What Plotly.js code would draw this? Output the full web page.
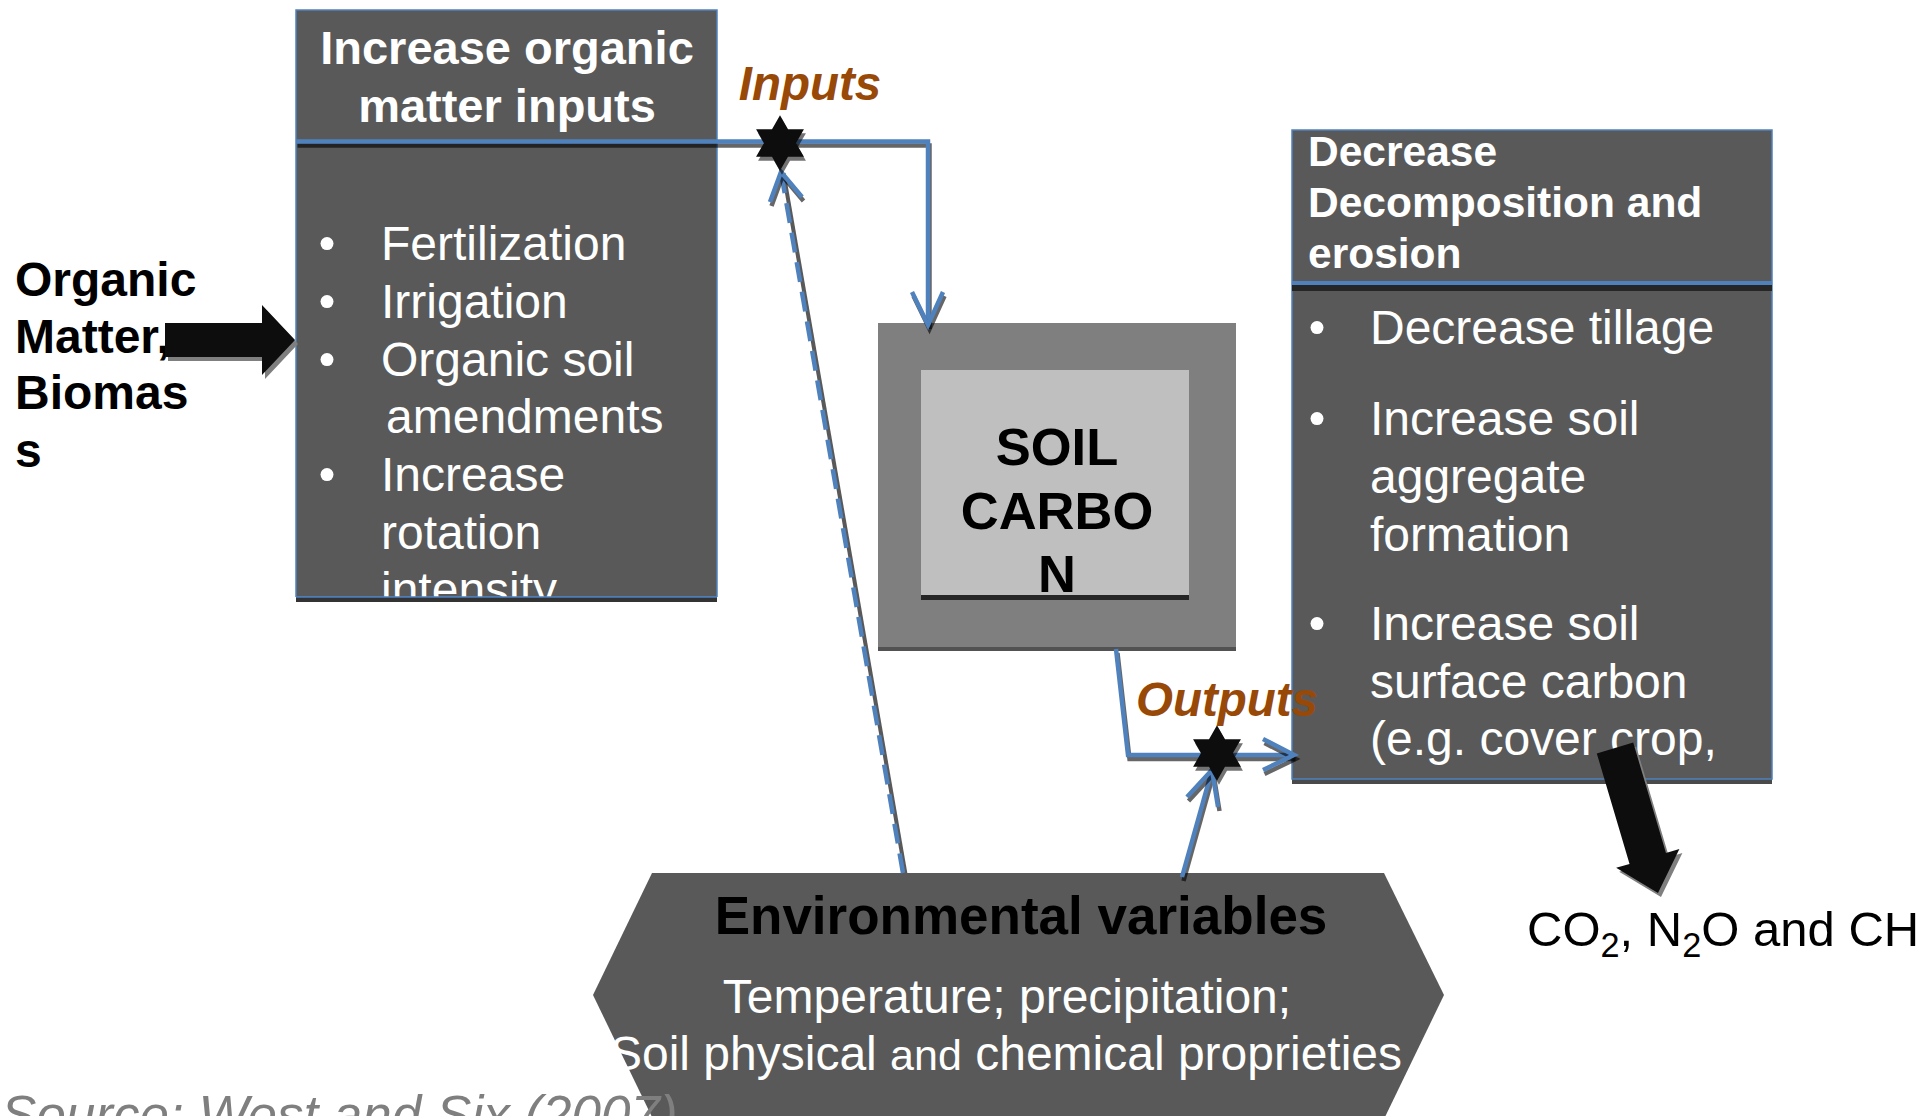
<!DOCTYPE html>
<html><head><meta charset="utf-8">
<script src="https://cdn.plot.ly/plotly-3.0.1.min.js"></script>
<style>html,body{margin:0;padding:0;background:#fff;overflow:hidden}</style>
</head><body><div id="chart" style="width:1916px;height:1116px"></div>
<script>
// ---------------- DATA (texts) ----------------
const inputTitle = ["Increase organic", "matter inputs"];
const inputBullets = ["Fertilization", "Irrigation", "Organic soil", "amendments", "Increase", "rotation", "intensity"];
const inputBulletMarks = [true, true, true, false, true, false, false];
const outputTitle = ["Decrease", "Decomposition and", "erosion"];
const outputBullets = ["Decrease tillage", "Increase soil", "aggregate", "formation", "Increase soil", "surface carbon", "(e.g. cover crop,"];
const outputBulletMarks = [true, true, false, false, true, false, false];
const sourceLabel = ["Organic", "Matter,", "Biomas", "s"];
const poolLabel = ["SOIL", "CARBO", "N"];
const envTitle = ["Environmental variables"];
const envLines = ["Temperature; precipitation;", "Soil physical <span style='font-size:43px'>and</span> chemical proprieties"];
const flowLabels = ["Inputs", "Outputs"];
const emissionLabel = ["CO<sub>2</sub>, N<sub>2</sub>O and CH<sub>4</sub>"];
const citation = ["Source: West and Six (2007)"];

// ---------------- GEOMETRY / STYLE ----------------
const W = 1916, H = 1116;
const FONT = '"Liberation Sans", Arial, Helvetica, sans-serif';
const BLUE = '#4f81bd', SHADOW = 'rgba(0,0,0,0.6)', BOXFILL = '#595959', BROWN = '#984807';
const TY = 5; // vertical text adjustment
const inBox = {x0: 296, x1: 717, y0: 10, y1: 597};
const outBox = {x0: 1292, x1: 1772, y0: 130, y1: 779, div: 283};
const pool = {x0: 878, x1: 1236, y0: 323, y1: 647, ix0: 921, ix1: 1189, iy0: 370, iy1: 595};
const hexPts = [[652, 873], [1384, 873], [1444, 995], [1385, 1117], [652, 1117], [593, 995]];
const inputFlow = [[296, 141.5], [928, 141.5], [928, 325]];
const inputHead = [[912, 292], [928, 325], [943, 292]];
const envToInput = [[903, 873], [781, 172]];
const envInputHead = [[770, 202], [781, 172], [802, 197]];
const poolToOut = [[1116, 649], [1128, 755], [1294, 755]];
const outHead = [[1263, 739], [1294, 755], [1263, 770]];
const envToOut = [[1182, 877], [1212, 770]];
const envOutHead = [[1187, 797], [1212, 770], [1218, 807]];
const starPos = [[780, 143], [1217, 753]];
const leftArrow = {s: [165, 340], t: [295, 340], hb: 17, hh: 35, hl: 33};
const emitArrow = {s: [1615, 748], t: [1658, 893], hb: 19, hh: 33, hl: 36};

const inTitleY = [47, 105];
const inBulletBase = [259, 317, 375, 432, 490, 548, 605];
const inBulletX = [381, 381, 381, 386, 381, 381, 381];
const outTitleY = [150, 201, 252];
const outBulletBase = [343, 434, 492, 550, 639, 697, 754];
const labelY = [279, 336, 392, 450];
const poolY = [447, 511, 574];
const citationTop = 1093;

const BODY = 48;
const mid = b => b - 0.35 * 47 + TY;
const ty = a => a.map(v => v + TY);

// ---------------- helpers ----------------
const pathOf = (pts, dx = 0, dy = 0, close = false) =>
  pts.map((p, i) => (i ? 'L' : 'M') + (p[0] + dx) + ',' + (p[1] + dy)).join(' ') + (close ? ' Z' : '');
function arrowPoly(a) {
  const dx = a.t[0] - a.s[0], dy = a.t[1] - a.s[1], L = Math.hypot(dx, dy);
  const ux = dx / L, uy = dy / L, nx = -uy, ny = ux, k = L - a.hl;
  const P = (u, n) => [a.s[0] + ux * u + nx * n, a.s[1] + uy * u + ny * n];
  return [P(0, -a.hb), P(k, -a.hb), P(k, -a.hh), P(L, 0), P(k, a.hh), P(k, a.hb), P(0, a.hb)];
}
const shapes = [];
const rect = (x0, y0, x1, y1, fill, layer = 'below', line = {width: 0}) =>
  shapes.push({type: 'rect', xref: 'x', yref: 'y', x0, y0, x1, y1, fillcolor: fill, line, layer});
const path = (d, color, width, layer = 'below', fill = 'rgba(0,0,0,0)', dash = 'solid') =>
  shapes.push({type: 'path', xref: 'x', yref: 'y', path: d, fillcolor: fill, line: {color, width, dash}, layer});
const LW = 4.5;
const flow = (pts) => { path(pathOf(pts, 1.5, 4), SHADOW, LW); path(pathOf(pts), BLUE, LW); };

// ---------------- shapes (below traces) ----------------
rect(inBox.x0, inBox.y0, inBox.x1, inBox.y1, BOXFILL, 'below', {color: BLUE, width: 1.5});
rect(outBox.x0, outBox.y1, outBox.x1, outBox.y1 + 5, '#4a4a4a');
rect(outBox.x0, outBox.y0, outBox.x1, outBox.y1, BOXFILL, 'below', {color: BLUE, width: 1.5});
rect(outBox.x0, outBox.div + 2, outBox.x1, outBox.div + 8, '#262626');
rect(outBox.x0, outBox.div - 2, outBox.x1, outBox.div + 2, BLUE);
rect(pool.x0, pool.y0, pool.x1, pool.y1 + 4, '#525252');
rect(pool.x0, pool.y0, pool.x1, pool.y1, '#7f7f7f');
rect(pool.ix0, pool.iy0, pool.ix1, pool.iy1 + 5, '#262626');
rect(pool.ix0, pool.iy0, pool.ix1, pool.iy1, '#bfbfbf');
path(pathOf(hexPts, 0, 0, true), 'rgba(0,0,0,0)', 0, 'below', BOXFILL);
flow(inputFlow); flow(inputHead);
path(pathOf(envToInput, 2.5, 1), '#595959', 4);
path(pathOf(envToInput), BLUE, LW, 'below', 'rgba(0,0,0,0)', '20px,10px');
flow(envInputHead);
flow(poolToOut); flow(outHead);
flow(envToOut); flow(envOutHead);

// ---------------- shapes (above traces) ----------------
rect(inBox.x0 - 6, inBox.y1, inBox.x1 + 6, inBox.y1 + 45, '#ffffff', 'above');
rect(inBox.x0, inBox.y1, inBox.x1, inBox.y1 + 5, '#333333', 'above');
rect(inBox.x0, inBox.y1 - 0.75, inBox.x1, inBox.y1 + 0.75, BLUE, 'above');
[leftArrow, emitArrow].forEach(a => {
  const p = arrowPoly(a);
  path(pathOf(p, 3, 4, true), 'rgba(0,0,0,0)', 0, 'above', '#7f7f7f');
  path(pathOf(p, 0, 0, true), 'rgba(0,0,0,0)', 0, 'above', '#0d0d0d');
});

// ---------------- traces ----------------
const txt = (x, y, text, pos, size, color, weight = 'normal', style = 'normal') => ({
  type: 'scatter', mode: 'text', x, y, text, textposition: pos, hoverinfo: 'skip', cliponaxis: false,
  textfont: {family: FONT, size, color, weight, style}
});
const traces = [];
const dotX = [], dotY = [];
inputBulletMarks.forEach((m, i) => { if (m) { dotX.push(327); dotY.push(mid(inBulletBase[i]) - TY + 1); } });
outputBulletMarks.forEach((m, i) => { if (m) { dotX.push(1317); dotY.push(mid(outBulletBase[i]) - TY + 1); } });
traces.push({type: 'scatter', mode: 'markers', x: dotX, y: dotY, hoverinfo: 'skip',
  marker: {symbol: 'circle', size: 13, color: '#ffffff', line: {width: 0}}});
traces.push(txt(inputTitle.map(() => 507), ty(inTitleY), inputTitle, 'middle center', 47, '#ffffff', 'bold'));
traces.push(txt(inBulletX, inBulletBase.map(mid), inputBullets, 'middle right', BODY, '#ffffff'));
traces.push(txt(outputTitle.map(() => 1308), ty(outTitleY), outputTitle, 'middle right', 42.5, '#ffffff', 'bold'));
traces.push(txt(outputBullets.map(() => 1370), outBulletBase.map(mid), outputBullets, 'middle right', BODY, '#ffffff'));
traces.push(txt(sourceLabel.map(() => 15), ty(labelY), sourceLabel, 'middle right', 48, '#000000', 'bold'));
traces.push(txt(poolLabel.map(() => 1057), ty(poolY), poolLabel, 'middle center', 52.5, '#000000', 'bold'));
traces.push(txt([1021], ty([916]), envTitle, 'middle center', 53, '#000000', 'bold'));
traces.push(txt([1007, 1006], ty([996, 1053]), envLines, 'middle center', BODY, '#ffffff'));
traces.push(txt([1527], ty([929]), emissionLabel, 'middle right', 49, '#000000'));
traces.push(txt([1], [citationTop], citation, 'bottom right', 53, '#7f7f7f', 'normal', 'italic'));
traces.push({type: 'scatter', mode: 'markers', x: starPos.map(p => p[0] + 2), y: starPos.map(p => p[1] + 4),
  hoverinfo: 'skip', marker: {symbol: 'hexagram', size: 42, color: 'rgba(0,0,0,0.55)', line: {width: 0}}});
traces.push({type: 'scatter', mode: 'markers', x: starPos.map(p => p[0]), y: starPos.map(p => p[1]),
  hoverinfo: 'skip', marker: {symbol: 'hexagram', size: 42, color: '#0d0d0d', line: {width: 0}}});
traces.push(txt([810, 1227], ty([83, 699]), flowLabels, 'middle center', 47.5, BROWN, 'bold', 'italic'));

const layout = {
  width: W, height: H, margin: {l: 0, r: 0, t: 0, b: 0, pad: 0},
  paper_bgcolor: '#ffffff', plot_bgcolor: '#ffffff', showlegend: false,
  xaxis: {range: [0, W], visible: false, fixedrange: true},
  yaxis: {range: [H, 0], visible: false, fixedrange: true},
  shapes
};
Plotly.newPlot('chart', traces, layout, {staticPlot: true, displayModeBar: false});
</script></body></html>
